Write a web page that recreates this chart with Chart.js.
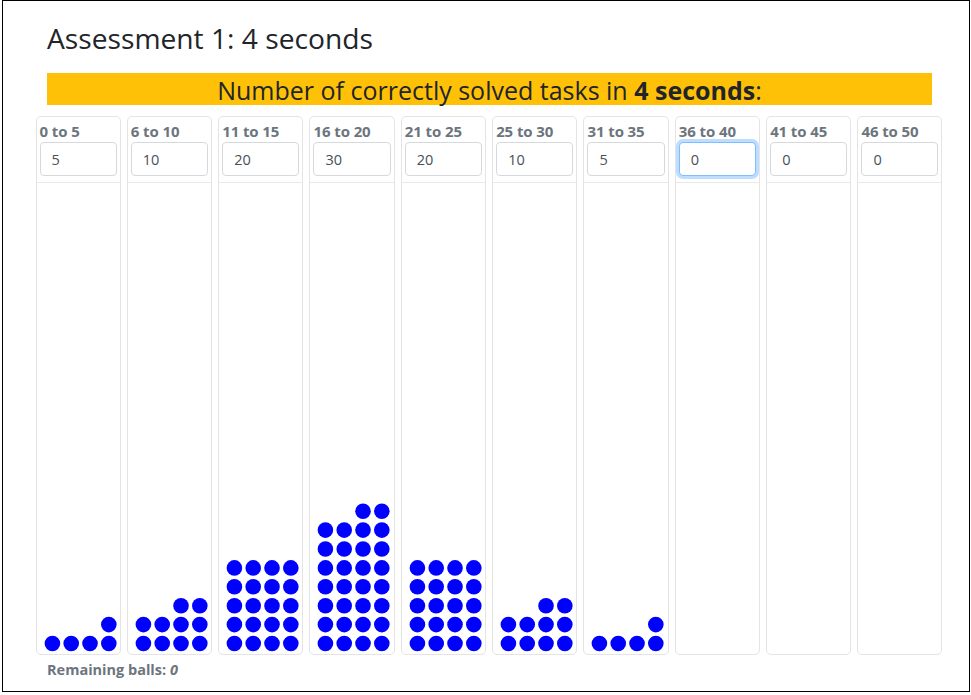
<!DOCTYPE html>
<html>
<head>
<meta charset="utf-8">
<title>Assessment 1: 4 seconds</title>
<script src="https://cdn.jsdelivr.net/npm/chart.js@4"></script>
<style>
  html, body { margin: 0; padding: 0; background: #fff; }
  body {
    width: 971px; height: 695px; overflow: hidden; position: relative;
    font-family: "Open Sans", "Noto Sans", sans-serif; color: #212529;
  }
  .frame {
    position: absolute; left: 2px; top: 0; width: 966px; height: 690px;
    border: 1px solid #000;
  }
  .title {
    position: absolute; left: 47px; top: 24px; margin: 0;
    font-size: 28.2px; line-height: 28px; font-weight: 400; white-space: nowrap;
  }
  .banner {
    position: absolute; left: 47px; top: 73px; width: 885px; height: 32px;
    background: #ffc107; text-align: center;
    font-size: 25px; line-height: 32px; white-space: nowrap;
  }
  .banner span { position: relative; top: 1px; }
  .grid {
    position: absolute; left: 35.5px; top: 116px; width: 907px; height: 539px;
    display: flex; gap: 6.3px;
  }
  .card {
    flex: 1 1 0; border: 1px solid #e4e4e4; border-radius: 5px;
    display: flex; flex-direction: column; box-sizing: border-box; min-width: 0;
  }
  .card-head {
    padding: 4px 3px 6px 3px; border-bottom: 1px solid #e9e9e9;
  }
  .card-head label {
    display: block; font-size: 15px; line-height: 21px; font-weight: 700;
    color: #6c757d; white-space: nowrap; letter-spacing: -0.1px;
  }
  .card-head input {
    display: block; width: 100%; box-sizing: border-box; height: 34px;
    padding: 0 11px; border: 1px solid #d5d9de; border-radius: 4px;
    font-family: inherit; font-size: 14.5px; color: #495057; background: #fff;
    outline: none;
  }
  .card-head input.focus, .card-head input:focus {
    border-color: #80bdff; box-shadow: 0 0 0 3px rgba(0,123,255,.25);
  }
  .card-body { flex: 1 1 auto; position: relative; }
  .card-body canvas { position: absolute; left: 0; top: 0; }
  .remaining {
    position: absolute; left: 47px; top: 662.5px;
    font-size: 14.5px; line-height: 14px; font-weight: 700; color: #6c757d;
  }
</style>
</head>
<body>
<div class="frame"></div>
<h3 class="title">Assessment 1: 4 seconds</h3>
<div class="banner"><span>Number of correctly solved tasks in <b>4 seconds</b>:</span></div>
<div class="grid" id="grid"></div>
<div class="remaining">Remaining balls: <i>0</i></div>

<script>
// score ranges and how many balls were dropped into each
const categories = ['0 to 5', '6 to 10', '11 to 15', '16 to 20', '21 to 25',
                    '25 to 30', '31 to 35', '36 to 40', '41 to 45', '46 to 50'];
const counts = [5, 10, 20, 30, 20, 10, 5, 0, 0, 0];
const remainingBalls = 0;
const ballsPerRow = 4;

// one ball per unit, full rows from the bottom, partial top row pushed right
function ballPoints(n) {
  const pts = [];
  const fullRows = Math.floor(n / ballsPerRow);
  const rest = n % ballsPerRow;
  for (let r = 0; r < fullRows; r++) {
    for (let c = 1; c <= ballsPerRow; c++) pts.push({ x: c, y: r + 1 });
  }
  for (let c = ballsPerRow - rest + 1; c <= ballsPerRow; c++) {
    pts.push({ x: c, y: fullRows + 1 });
  }
  return pts;
}

const grid = document.getElementById('grid');
const charts = [];

categories.forEach(function(cat, i) {
  const card = document.createElement('div');
  card.className = 'card';
  card.innerHTML =
    '<div class="card-head"><label>' + cat + '</label>' +
    '<input type="text" value="' + counts[i] + '"' + (i === 7 ? ' class="focus"' : '') + '></div>' +
    '<div class="card-body"><canvas></canvas></div>';
  grid.appendChild(card);
});

document.querySelectorAll('.card').forEach(function(card, i) {
  const body = card.querySelector('.card-body');
  const canvas = body.querySelector('canvas');
  canvas.width = Math.round(body.clientWidth);
  canvas.height = Math.round(body.clientHeight);
  try {
    charts.push(new Chart(canvas.getContext('2d'), {
      type: 'scatter',
      data: {
        datasets: [{
          data: ballPoints(counts[i]),
          backgroundColor: '#0000ff',
          borderWidth: 0,
          pointRadius: 7.8,
          pointHoverRadius: 7.8,
          clip: false
        }]
      },
      options: {
        responsive: false,
        animation: false,
        events: [],
        layout: { padding: 0, autoPadding: false },
        plugins: { legend: { display: false }, tooltip: { enabled: false } },
        scales: {
          x: { type: 'linear', display: false, min: 0.18, max: 0.18 + canvas.width / 18.8 },
          y: { type: 'linear', display: false, min: 0.444, max: 0.444 + canvas.height / 18.9 }
        }
      }
    }));
  } catch (error) {
    console.error('Error creating ball chart:', error);
  }
});

const focused = document.querySelector('input.focus');
if (focused) {
  focused.focus();
  focused.setSelectionRange(1, 1);
}
</script>
</body>
</html>
